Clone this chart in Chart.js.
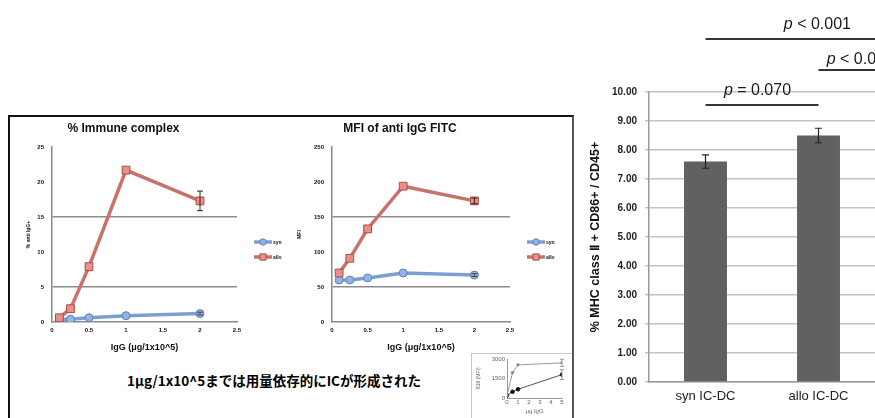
<!DOCTYPE html>
<html>
<head>
<meta charset="utf-8">
<script src="https://cdn.jsdelivr.net/npm/chart.js@4"></script>
<style>
    html, body { margin: 0; padding: 0; background: #fff; }
    body { width: 875px; height: 418px; position: relative; overflow: hidden; }
    canvas { position: absolute; }
    #inset { position: absolute; left: 471px; top: 353px; width: 100px; height: 80px; border: 1px solid #c8c8c8; background: #fff; }
    #panel { position: absolute; left: 8px; top: 115px; width: 562px; height: 320px; border-top: 2px solid #111; border-left: 2px solid #111; border-right: 2px solid #555; }
    #note { position: absolute; left: 127px; top: 370px; font: bold 13.5px "Noto Sans CJK JP", sans-serif; color: #000; white-space: nowrap; }
</style>
</head>
<body>
<div id="inset"></div>
<div id="panel"></div>
<canvas id="icChart" width="280" height="245" style="left:10px; top:115px;"></canvas>
<canvas id="mfiChart" width="280" height="245" style="left:290px; top:115px;"></canvas>
<canvas id="b16Chart" width="100" height="66" style="left:472px; top:352px;"></canvas>
<canvas id="mhcChart" width="400" height="418" style="left:588px; top:0px;"></canvas>
<div id="note">1μg/1x10^5までは用量依存的にICが形成された</div>
<script>
"use strict";

// dose series (left panel)
const doses = [0.1, 0.25, 0.5, 1, 2];
const icSyn = [0.4, 0.4, 0.6, 0.9, 1.2];
const icSynErr = [0, 0, 0, 0, 0.2];
const icAllo = [0.6, 1.9, 7.9, 21.7, 17.3];
const icAlloErr = [0, 0, 0, 0, 1.4];
const mfiSyn = [60, 60, 63, 70, 67];
const mfiSynErr = [0, 0, 0, 0, 2];
const mfiAllo = [70, 91, 133, 194, 173];
const mfiAlloErr = [0, 0, 0, 0, 4];

// small B16 inset
const b16Dose = [0, 0.5, 1, 5];
const b16Upper = [200, 1950, 2550, 2700];
const b16UpperErr = [0, 0, 0, 280];
const b16Lower = [200, 480, 670, 1800];
const b16LowerErr = [0, 0, 0, 380];

// bar chart (right)
const groups = ['syn IC-DC', 'allo IC-DC', ''];
const mhcPct = [7.6, 8.5, null];
const mhcErr = [0.23, 0.25, 0];
const pairFrom = [0, 1, 0];
const pairTo = [1, 2, 2];
const pairLevel = [9.55, 10.76, 11.83];
const pairText = ['= 0.070', '< 0.001', '< 0.001'];
const pairTextAt = [0.46, 1.37, 0.99];
const pairLift = [7, 3, 7];

const FONT = '"Liberation Sans", Arial, sans-serif';
const AXIS = '#8a8a8a';
const GRID = '#8c8c8c';
Chart.defaults.font.family = FONT;
Chart.defaults.color = '#111';

const pts = (xs, ys) => xs.map((x, i) => ({ x: x, y: ys[i] }));

// vertical error bars from dataset.errors
const errorBars = {
    id: 'errorBars',
    afterDatasetsDraw(chart) {
        const ctx = chart.ctx;
        chart.data.datasets.forEach((ds, i) => {
            if (!ds.errors) return;
            const meta = chart.getDatasetMeta(i);
            const ys = chart.scales[meta.yAxisID];
            ctx.save();
            ctx.strokeStyle = ds.errorColor || '#222';
            ctx.lineWidth = ds.errorWidth || 1;
            meta.data.forEach((el, j) => {
                const e = ds.errors[j];
                const raw = ds.data[j];
                if (!e || raw === null) return;
                const v = (typeof raw === 'object') ? raw.y : raw;
                const top = ys.getPixelForValue(v + e);
                const bot = ys.getPixelForValue(v - e);
                const cap = ds.errorCap || 3;
                ctx.beginPath();
                ctx.moveTo(el.x, top); ctx.lineTo(el.x, bot);
                ctx.moveTo(el.x - cap, top); ctx.lineTo(el.x + cap, top);
                ctx.moveTo(el.x - cap, bot); ctx.lineTo(el.x + cap, bot);
                ctx.stroke();
            });
            ctx.restore();
        });
    }
};

// little legend to the right of the plot
const sideLegend = {
    id: 'sideLegend',
    afterDraw(chart, args, opts) {
        if (!opts || opts.x === undefined) return;
        const ctx = chart.ctx;
        chart.data.datasets.forEach((ds, i) => {
            const y = opts.y + i * opts.gap;
            ctx.save();
            ctx.strokeStyle = ds.borderColor;
            ctx.lineWidth = ds.borderWidth;
            ctx.beginPath();
            ctx.moveTo(opts.x, y);
            ctx.lineTo(opts.x + 18, y);
            ctx.stroke();
            ctx.fillStyle = ds.pointBackgroundColor;
            ctx.strokeStyle = ds.pointBorderColor;
            ctx.lineWidth = 1;
            Chart.helpers.drawPoint(ctx, { pointStyle: ds.pointStyle, radius: ds.pointRadius * 0.8, rotation: 0, borderWidth: 1 }, opts.x + 9, y);
            ctx.fillStyle = '#111';
            ctx.font = 'bold 5px ' + FONT;
            ctx.textBaseline = 'middle';
            ctx.fillText(ds.label, opts.x + 19, y + 1);
            ctx.restore();
        });
    }
};

// significance brackets over the bars
const brackets = {
    id: 'brackets',
    afterDraw(chart) {
        const { ctx, scales: { x, y } } = chart;
        for (let i = 0; i < pairFrom.length; i++) {
            const x1 = x.getPixelForValue(pairFrom[i]);
            const x2 = x.getPixelForValue(pairTo[i]);
            const yy = y.getPixelForValue(pairLevel[i]);
            ctx.save();
            ctx.strokeStyle = '#333';
            ctx.lineWidth = 2;
            ctx.beginPath();
            ctx.moveTo(x1, yy);
            ctx.lineTo(x2, yy);
            ctx.stroke();

            const italic = 'italic 16px ' + FONT;
            const plain = '16px ' + FONT;
            ctx.font = italic;
            const wp = ctx.measureText('p').width;
            ctx.font = plain;
            const rest = ' ' + pairText[i];
            const wr = ctx.measureText(rest).width;
            const cx = x.getPixelForValue(pairTextAt[i]);
            const left = cx - (wp + wr) / 2;
            const base = yy - pairLift[i];
            ctx.fillStyle = '#1a1a1a';
            ctx.textBaseline = 'alphabetic';
            ctx.font = italic;
            ctx.fillText('p', left, base - 3);
            ctx.font = plain;
            ctx.fillText(rest, left + wp, base - 3);
            ctx.restore();
        }
    }
};

const lineOptions = (title, yTitle, yMax, yStep, gridAt, rightPad, legendX) => ({
    responsive: false,
    animation: false,
    layout: { padding: { top: 0, right: rightPad, bottom: 0, left: 0 } },
    plugins: {
        legend: { display: false },
        tooltip: { enabled: false },
        title: {
            display: true,
            text: title,
            color: '#111',
            font: { size: 12, weight: 'bold' },
            padding: { top: 6.8, bottom: 10.8 }
        },
        sideLegend: { x: legendX, y: 127, gap: 15 }
    },
    scales: {
        x: {
            type: 'linear',
            min: 0,
            max: 2.5,
            ticks: { stepSize: 0.5, padding: 5, font: { size: 6, weight: 'bold' }, callback: (v) => String(v) },
            grid: { display: false, drawTicks: false },
            border: { display: true, color: AXIS, width: 1.5 },
            title: { display: true, text: 'IgG (μg/1x10^5)', font: { size: 9, weight: 'bold' }, padding: { top: 0, bottom: 7 } },
            afterFit: (s) => { s.height = 38; }
        },
        y: {
            min: 0,
            max: yMax,
            ticks: { stepSize: yStep, padding: 8, font: { size: 6, weight: 'bold' } },
            grid: {
                drawTicks: false,
                lineWidth: 1.5,
                color: (c) => gridAt.includes(c.tick.value) ? GRID : 'rgba(0,0,0,0)'
            },
            border: { display: true, color: AXIS, width: 1.5 },
            title: { display: true, text: yTitle, font: { size: 5, weight: 'bold' }, padding: { top: 0, bottom: 0 } },
            afterFit: (s) => { s.width = 42; }
        }
    }
});

const synStyle = {
    label: 'syn',
    order: 1,
    borderColor: '#7c9fd2',
    borderWidth: 3.5,
    pointStyle: 'circle',
    pointRadius: 4,
    pointBorderWidth: 1,
    pointBackgroundColor: '#93b3e2',
    pointBorderColor: '#5e82ba',
    errorColor: '#444'
};
const alloStyle = {
    label: 'allo',
    order: 0,
    borderColor: '#c9716b',
    borderWidth: 3.5,
    pointStyle: 'rect',
    pointRadius: 5.5,
    pointBorderWidth: 1,
    pointBackgroundColor: '#e6928b',
    pointBorderColor: '#b24a44',
    errorColor: '#222'
};

// % immune complex
const icOpts = lineOptions('% Immune complex', '% anti IgG+', 25, 5, [5, 15], 53, 244);
icOpts.scales.y.title.padding = { top: 16, bottom: 0 };
new Chart(document.getElementById('icChart'), {
    type: 'line',
    data: {
        datasets: [
            Object.assign({ data: pts(doses, icSyn), errors: icSynErr }, synStyle),
            Object.assign({ data: pts(doses, icAllo), errors: icAlloErr }, alloStyle)
        ]
    },
    options: icOpts,
    plugins: [errorBars, sideLegend]
});

// MFI of anti IgG FITC
const mfiOpts = lineOptions('MFI of anti IgG FITC', 'MFI', 250, 50, [50, 150], 60, 237);
mfiOpts.scales.y.title.padding = { top: 7, bottom: 0 };
new Chart(document.getElementById('mfiChart'), {
    type: 'line',
    data: {
        datasets: [
            Object.assign({ data: pts(doses, mfiSyn), errors: mfiSynErr }, synStyle),
            Object.assign({ data: pts(doses, mfiAllo), errors: mfiAlloErr }, alloStyle)
        ]
    },
    options: mfiOpts,
    plugins: [errorBars, sideLegend]
});

// B16 inset
new Chart(document.getElementById('b16Chart'), {
    type: 'line',
    data: {
        datasets: [
            {
                data: pts(b16Dose, b16Upper), errors: b16UpperErr, errorColor: '#999', errorCap: 2,
                borderColor: '#9a9a9a', borderWidth: 1, pointRadius: 1.2,
                pointBackgroundColor: '#888', pointBorderColor: '#888'
            },
            {
                data: pts(b16Dose, b16Lower), errors: b16LowerErr, errorColor: '#999', errorCap: 2,
                borderColor: '#555', borderWidth: 1, pointRadius: 1.8,
                pointBackgroundColor: '#111', pointBorderColor: '#111'
            }
        ]
    },
    options: {
        responsive: false,
        animation: false,
        layout: { padding: { top: 7, right: 10, bottom: 0, left: 0 } },
        plugins: { legend: { display: false }, tooltip: { enabled: false } },
        scales: {
            x: {
                type: 'linear', min: 0, max: 5,
                ticks: { stepSize: 1, padding: 1, color: '#666', font: { size: 6 } },
                grid: { display: false, drawTicks: false },
                border: { color: '#999', width: 1 },
                title: { display: true, text: 'μg IgG', color: '#666', font: { size: 6 }, padding: { top: 0, bottom: 3 } },
                afterFit: (s) => { s.height = 20; }
            },
            y: {
                min: 0, max: 3000,
                ticks: { stepSize: 1500, padding: 2, color: '#666', font: { size: 6 }, callback: (v) => String(v) },
                grid: { display: false, drawTicks: false },
                border: { color: '#999', width: 1 },
                title: { display: true, text: 'B16 (MFI)', color: '#666', font: { size: 5 }, padding: { top: 4, bottom: 0 } },
                afterFit: (s) => { s.width = 35; }
            }
        }
    },
    plugins: [errorBars]
});

// MHC class II bar chart
new Chart(document.getElementById('mhcChart'), {
    type: 'bar',
    data: {
        labels: groups,
        datasets: [{
            data: mhcPct,
            errors: mhcErr,
            errorColor: '#222',
            errorWidth: 1.2,
            errorCap: 3.5,
            backgroundColor: '#616161',
            barPercentage: 0.38,
            categoryPercentage: 1
        }]
    },
    options: {
        responsive: false,
        animation: false,
        layout: { padding: { top: 92, right: 0, bottom: 0, left: 0 } },
        plugins: { legend: { display: false }, tooltip: { enabled: false } },
        scales: {
            x: {
                grid: { display: false, drawTicks: false },
                border: { color: '#9a9a9a', width: 1.5 },
                ticks: { padding: 7, color: '#222', font: { size: 13 } },
                afterFit: (s) => { s.height = 36; }
            },
            y: {
                min: 0,
                max: 10,
                ticks: {
                    stepSize: 1,
                    padding: 8,
                    color: '#222',
                    font: { size: 10, weight: 'bold' },
                    callback: (v) => Number(v).toFixed(2)
                },
                grid: { color: '#c4c4c4', lineWidth: 1.5, tickLength: 4 },
                border: { color: '#9a9a9a', width: 1.5 },
                title: {
                    display: true,
                    text: '% MHC class Ⅱ + CD86+ / CD45+',
                    color: '#111',
                    font: { size: 12.5, weight: 'bold' },
                    padding: { top: 0, bottom: 0 }
                },
                afterFit: (s) => { s.width = 61; }
            }
        }
    },
    plugins: [errorBars, brackets]
});
</script>
</body>
</html>
